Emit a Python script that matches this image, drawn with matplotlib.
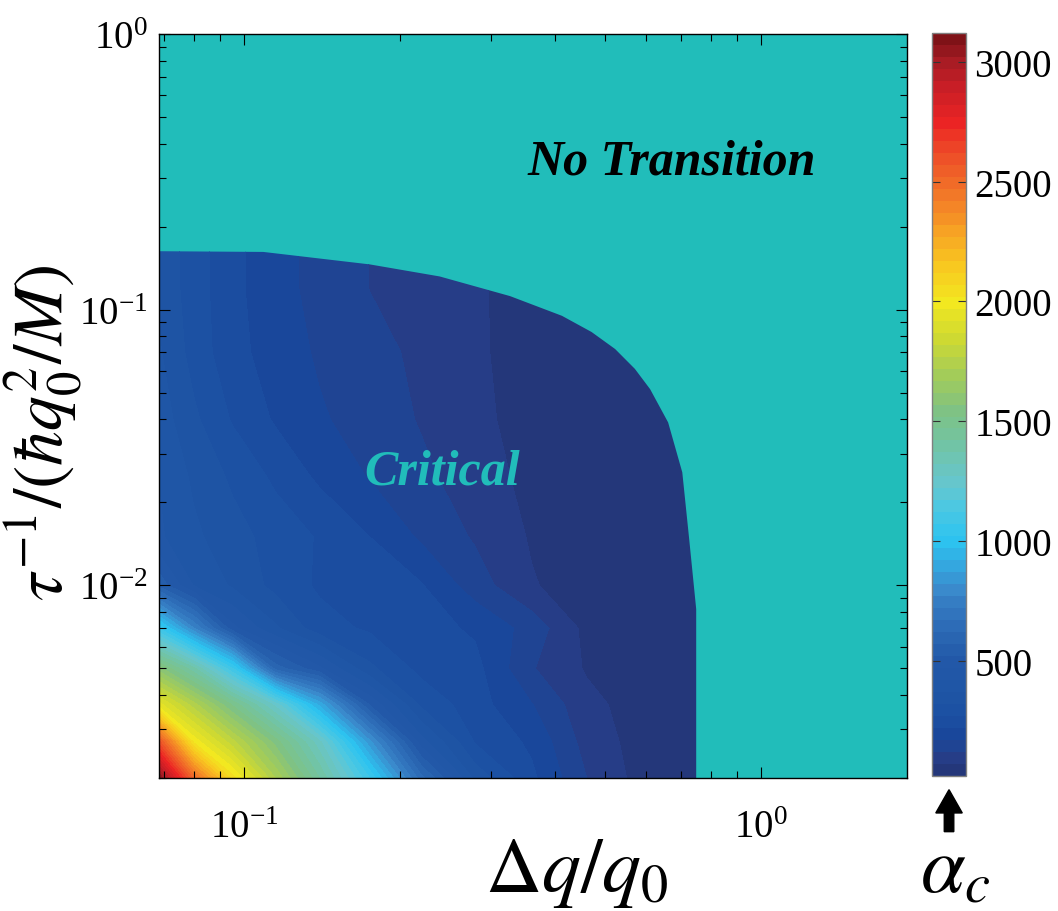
import numpy as np
import matplotlib
matplotlib.use('Agg')
import matplotlib.pyplot as plt
from matplotlib.colors import LinearSegmentedColormap
from matplotlib.patches import Polygon

plt.rcParams['font.family'] = 'Liberation Serif'
plt.rcParams['mathtext.fontset'] = 'stix'
plt.rcParams['axes.unicode_minus'] = False

# grid of disorder strength (x) and scattering rate (y)
dq = [0.068, 0.08, 0.095, 0.115, 0.14, 0.175, 0.22, 0.28, 0.36, 0.46, 0.6, 0.8]
tau_inv = [0.002, 0.0027, 0.0037, 0.005, 0.007, 0.01, 0.015, 0.025, 0.04, 0.07, 0.12, 0.18]

# critical alpha on the grid, one row per tau_inv value
alpha_c = [
    [3110, 2500, 2045, 1720, 1420, 1070, 640, 355, 231, 120, 45, 35],
    [2620, 2010, 1790, 1550, 1285, 835, 443, 266, 210, 100, 45, 35],
    [1950, 1740, 1510, 1250, 900, 513, 310, 241, 172, 84, 45, 35],
    [1600, 1380, 1070, 595, 479, 331, 254, 236, 124, 65, 40, 35],
    [1075, 770, 483, 378, 290, 262, 240, 212, 150, 55, 40, 35],
    [560, 416, 363, 304, 262, 243, 224, 144, 74, 45, 38, 35],
    [430, 380, 340, 300, 265, 220, 162, 114, 65, 45, 38, 35],
    [420, 360, 310, 259, 209, 166, 131, 94, 55, 42, 38, 35],
    [400, 330, 265, 214, 176, 148, 116, 81, 52, 42, 38, 35],
    [380, 300, 237, 197, 163, 137, 109, 77, 50, 42, 38, 35],
    [360, 295, 233, 189, 153, 119, 100, 76, 50, 42, 38, 35],
    [360, 295, 233, 189, 153, 119, 100, 76, 50, 42, 38, 35],
]

# edge of the region where a transition exists
edge_dq = [0.068, 0.109, 0.175, 0.239, 0.327, 0.412, 0.470, 0.522, 0.570, 0.610,
           0.661, 0.704, 0.726, 0.749, 0.749]
edge_tau = [0.163, 0.162, 0.146, 0.132, 0.112, 0.095, 0.083, 0.072, 0.061, 0.0515,
            0.039, 0.0257, 0.0147, 0.0082, 0.002]

cb_ticks = [500, 1000, 1500, 2000, 2500, 3000]

teal = '#21bdba'
anchors = [
    (20, '#253270'), (45, '#24377a'), (95, '#263d88'), (145, '#1f4594'),
    (195, '#18479c'), (245, '#1b4ea1'), (350, '#1e55a5'), (500, '#2258a8'),
    (600, '#2a66b2'), (700, '#3276be'), (800, '#3a8acc'), (900, '#34a8e0'),
    (1000, '#2cc4f0'), (1150, '#50c8e0'), (1250, '#66c6cc'), (1400, '#72c4a4'),
    (1550, '#80c282'), (1700, '#a4cc58'), (1850, '#d0da30'), (2000, '#f2e820'),
    (2150, '#f8c820'), (2300, '#f7a024'), (2450, '#f27828'), (2600, '#ee5028'),
    (2750, '#ec2424'), (2900, '#c81e26'), (3000, '#a81c24'), (3120, '#741014'),
]
vmin, vmax = 20, 3120
cmap = LinearSegmentedColormap.from_list(
    'alpha', [((v - vmin) / (vmax - vmin), c) for v, c in anchors])
levels = np.arange(vmin, vmax + 1, 50)

xlim = (0.0685, 1.915)
ylim = (0.002, 1.0)
pos = [0.1503, 0.1458, 0.7070, 0.8158]

fig = plt.figure(figsize=(10.58, 9.12), dpi=100)

# map drawn in log10 coordinates so contouring follows the log axes
ax_map = fig.add_axes(pos)
ax_map.set_facecolor(teal)
lx, ly = np.meshgrid(np.log10(dq), np.log10(tau_inv))
cf = ax_map.contourf(lx, ly, np.array(alpha_c), levels=levels, cmap=cmap,
                     vmin=vmin, vmax=vmax)
ax_map.set_xlim(np.log10(xlim))
ax_map.set_ylim(np.log10(ylim))
edge = list(zip(np.log10(edge_dq), np.log10(edge_tau)))
clip = Polygon(edge + [(-1.5, -3.0), (-1.5, np.log10(edge_tau[0]))], closed=True,
               transform=ax_map.transData, facecolor='none', edgecolor='none')
ax_map.add_patch(clip)
cf.set_clip_path(clip)
ax_map.set_xticks([])
ax_map.set_yticks([])
for s in ax_map.spines.values():
    s.set_visible(False)

# log axes on top carry the ticks and labels
ax = fig.add_axes(pos)
ax.patch.set_visible(False)
ax.set_xscale('log')
ax.set_yscale('log')
ax.set_xlim(xlim)
ax.set_ylim(ylim)
ax.tick_params(which='both', direction='in', top=True, right=True, colors='black',
               labelsize=28)
ax.tick_params(axis='x', pad=22)
ax.tick_params(axis='y', pad=8)
ax.tick_params(which='major', length=8, width=0.8)
ax.tick_params(which='minor', length=5, width=0.8)
for s in ax.spines.values():
    s.set_linewidth(1.0)

ax.set_xlabel(r'$\Delta q/q_0$', fontsize=56)
ax.xaxis.set_label_coords(0.559, -0.078)
ax.set_ylabel(r'$\tau^{-1}/(\hbar q_0^2/M)$', fontsize=50)
ax.yaxis.set_label_coords(-0.1, 0.465)

fig.text(0.635, 0.822, 'No Transition', ha='center', va='center', fontsize=36,
         fontweight='bold', fontstyle='italic', color='black')
fig.text(0.418, 0.482, 'Critical', ha='center', va='center', fontsize=36,
         fontweight='bold', fontstyle='italic', color=teal)

cax = fig.add_axes([0.881, 0.148, 0.0321, 0.8147])
cb = fig.colorbar(cf, cax=cax, ticks=cb_ticks)
cb.outline.set_edgecolor('#808080')
cb.outline.set_linewidth(1.0)
cax.tick_params(direction='in', length=6, width=0.8, left=True, right=True,
                labelsize=28, color='#333333', pad=6)

# upward arrow pointing at the colour bar
ax_x, head_w, shaft_w = 0.8970, 0.0125, 0.0045
tip_y, base_y, tail_y = 0.1330, 0.1075, 0.0870
arrow = Polygon([(ax_x, tip_y), (ax_x + head_w, base_y), (ax_x + shaft_w, base_y),
                 (ax_x + shaft_w, tail_y), (ax_x - shaft_w, tail_y),
                 (ax_x - shaft_w, base_y), (ax_x - head_w, base_y)],
                closed=True, transform=fig.transFigure, facecolor='black',
                edgecolor='black')
fig.add_artist(arrow)
fig.text(0.9025, 0.042, r'$\alpha_c$', ha='center', va='center', fontsize=58)

fig.savefig('out.png', dpi=100)
